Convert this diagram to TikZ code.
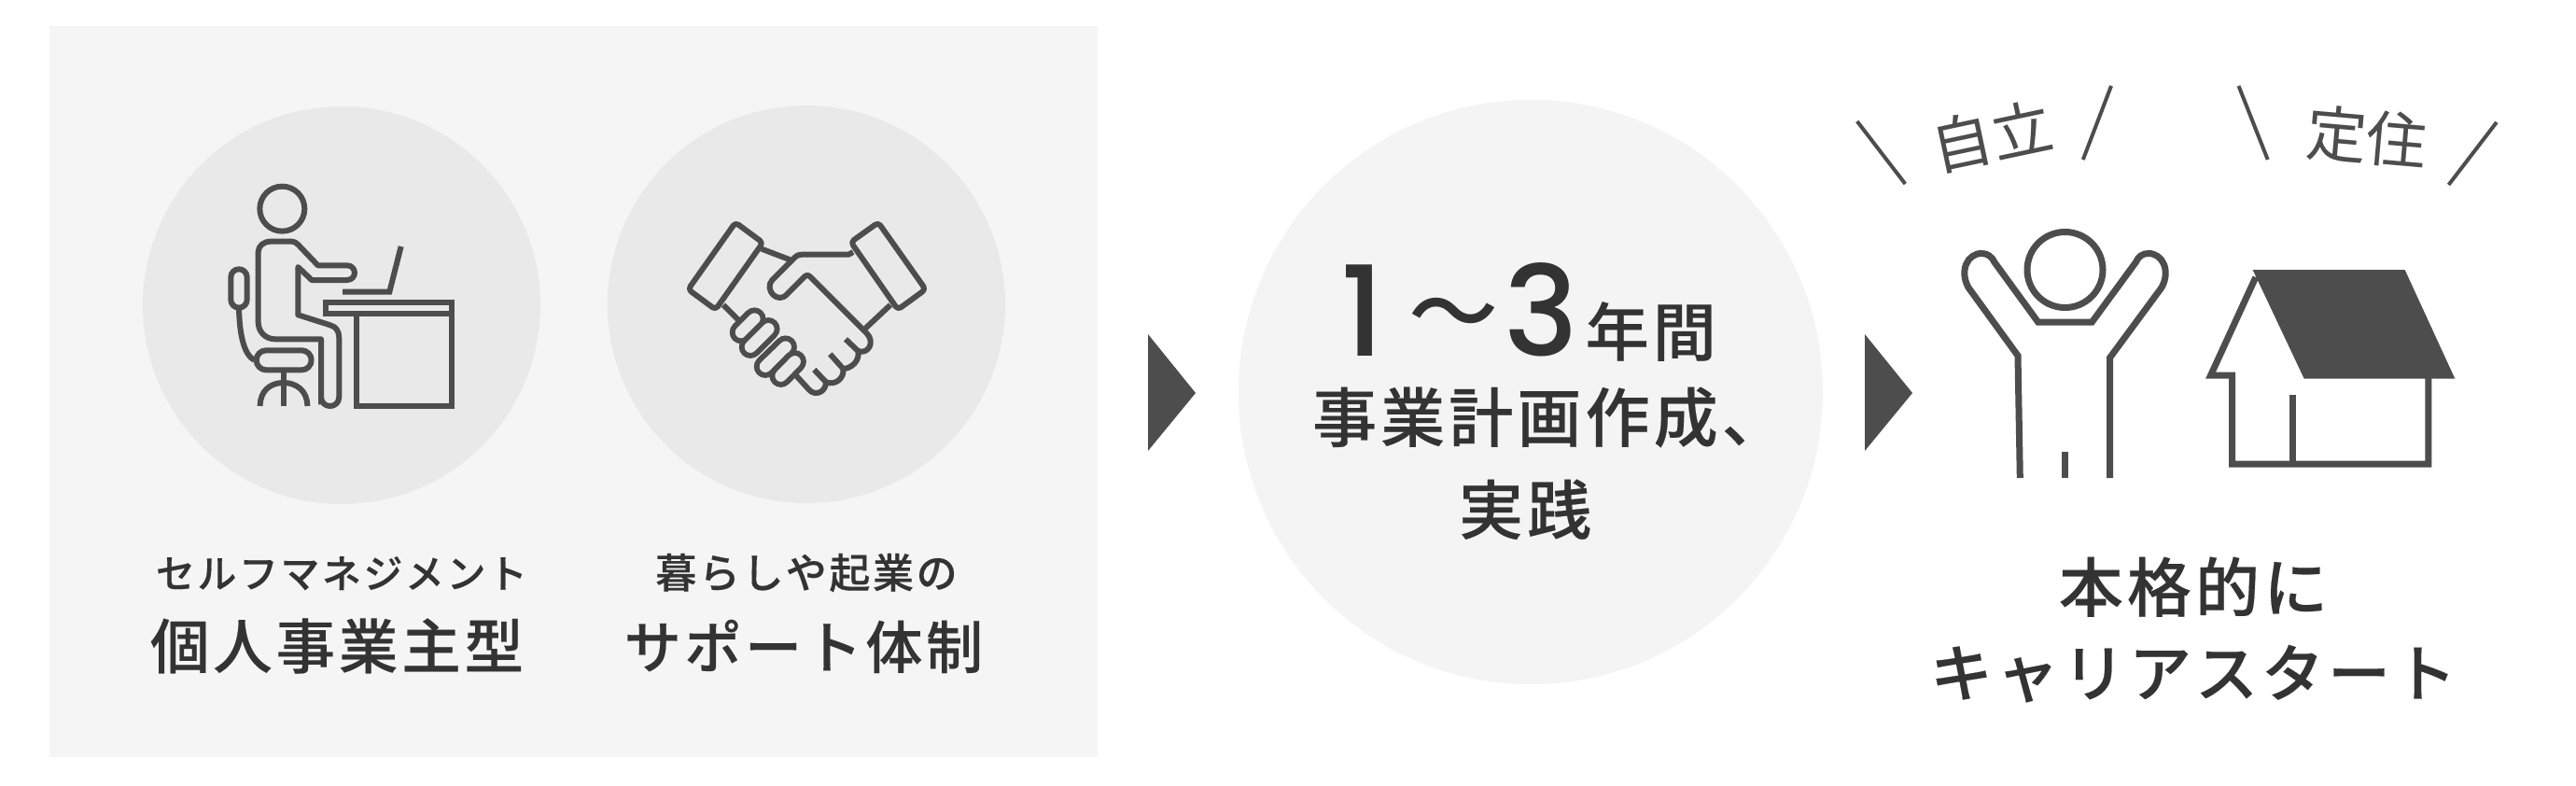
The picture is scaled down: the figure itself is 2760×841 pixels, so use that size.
\documentclass[tikz,border=0pt]{standalone}
\usepackage{fontspec}
\newfontfamily\jpmed{Noto Sans CJK JP Medium}
\newfontfamily\jpwide[LetterSpace=6]{Noto Sans CJK JP Medium}[FakeBold=0.3]
\newfontfamily\jphand{Noto Sans CJK JP}
\newfontfamily\jpnum{Poppins Medium}
\newcommand{\fsz}[1]{\fontsize{#1}{#1}\selectfont}
\definecolor{panelgray}{HTML}{F5F5F5}
\definecolor{circgray}{HTML}{E9E9E9}
\definecolor{centergray}{HTML}{F4F4F4}
\definecolor{icongray}{HTML}{4D4D4D}
\definecolor{textgray}{HTML}{333333}
\tikzset{
  iconline/.style={draw=icongray,line width=6pt,miter limit=10},
  handline/.style={draw=icongray,line width=6pt,line join=round},
  pill/.style={draw=icongray,line width=6pt,double=circgray,double distance=12.5pt,line cap=round},
  shout/.style={draw=icongray,line width=4pt},
  label/.style={inner sep=0pt,anchor=base,text=textgray},
  handtext/.style={inner sep=0pt,anchor=center,text=icongray,font=\jphand\fsz{65}}
}
\begin{document}
\begin{tikzpicture}[x=1pt,y=-1pt]
  \useasboundingbox (0,0) rectangle (2760,841);
  \fill[white] (0,0) rectangle (2760,841);
  \fill[panelgray] (53,28) rectangle (1176,811);
  \fill[circgray] (366,327) circle (213pt);
  \fill[circgray] (864,326) circle (213pt);
  \fill[centergray] (1640,420) circle (313pt);
  %
  \foreach \x in {1230,1998}{
    \fill[icongray] (\x,358) -- (\x+51,421) -- (\x,483) -- cycle;
  }
  %
  \begin{scope}[shift={(130,100)},scale=1/3]
    \draw[iconline] (517,371) circle (72);
    \draw[iconline,line join=round] (642,1000) -- (642,790) -- (495,790) .. controls (462,790) and (440,765) .. (440,735)
      -- (440,510) .. controls (440,490) and (458,476) .. (480,476) -- (548,476) .. controls (556,476) and (562,480) .. (568,486)
      -- (632,553) -- (725,553) .. controls (758,553) and (758,600) .. (725,600) -- (612,600) -- (568,558) -- (568,712)
      -- (672,745) .. controls (690,750) and (700,765) .. (700,785) -- (700,975) .. controls (700,1015) and (642,1015) .. (642,975);
    \draw[iconline,rounded corners=8.6pt] (352,565) rectangle (404,689);
    \draw[iconline] (378,689) .. controls (380,780) and (395,840) .. (428,858);
    \draw[iconline,rounded corners=10.5pt] (434,826) rectangle (611,889);
    \draw[iconline] (521,889) -- (521,1005);
    \draw[iconline] (446,1005) .. controls (446,955) and (480,930) .. (521,930) .. controls (562,930) and (598,955) .. (598,1005);
    \draw[iconline] (657,673) rectangle (1062,709);
    \draw[iconline] (757,700) -- (757,1006) -- (1062,1006) -- (1062,709);
    \draw[iconline] (711,638) -- (862,638) -- (899,492);
  \end{scope}
  %
  \begin{scope}[shift={(640,100)},scale=1/3]
    \draw[handline,rounded corners=4pt] (444,415) -- (532,480) -- (380,695) -- (292,630) -- cycle;
    \draw[handline,rounded corners=4pt] (903,415) -- (815,478) -- (966,695) -- (1055,630) -- cycle;
    \draw[handline] (528,500) -- (620,535);
    \draw[handline] (405,680) -- (460,735);
    \draw[handline] (942,680) -- (862,755);
    \draw[handline] (822,510) -- (808,518) -- (660,518) .. controls (645,518) and (640,522) .. (630,532) -- (562,600)
      .. controls (535,630) and (580,680) .. (610,645) -- (665,590) .. controls (672,583) and (678,583) .. (685,590) -- (865,770)
      .. controls (895,800) and (870,840) .. (838,828);
    \draw[handline] (798,790) -- (838,828) .. controls (845,860) and (815,885) .. (790,885);
    \draw[handline] (748,838) -- (790,885) .. controls (795,915) and (765,940) .. (735,928);
    \draw[handline] (697,888) -- (735,928) .. controls (735,960) and (700,975) .. (680,952) -- (640,908);
    \draw[pill] (505,725) -- (462,768);
    \draw[pill] (550,757) -- (492,815);
    \draw[pill] (605,815) -- (540,878);
    \draw[pill] (635,862) -- (590,908);
  \end{scope}
  %
  \draw[iconline,line width=7pt] (2212.5,289) circle (40.5);
  \draw[iconline,line width=7pt] (2164.3,512) -- (2162,381) -- (2109,308) .. controls (2099,290) and (2108,271.5) .. (2123,271.5)
    .. controls (2130,271.5) and (2134,275) .. (2137,281) -- (2183.6,345) -- (2241.4,345) -- (2288.3,281)
    .. controls (2291,275) and (2295,271.5) .. (2302,271.5) .. controls (2317,271.5) and (2326,290) .. (2316,308)
    -- (2260.7,383) -- (2260.7,512);
  \draw[iconline,line width=7pt] (2212.5,484) -- (2212.5,512);
  %
  \fill[icongray] (2413.6,289) -- (2576.6,289) -- (2630.3,405.7) -- (2468.7,405.7) -- cycle;
  \draw[iconline,line width=7pt] (2416.8,297) -- (2368.6,402) -- (2391.6,402) -- (2391.6,497) -- (2601.9,497) -- (2601.9,405);
  \draw[iconline,line width=7pt] (2456.8,423) -- (2456.8,497);
  %
  \draw[shout] (1989.8,130) -- (2041.3,197);
  \draw[shout] (2262,92) -- (2231.8,171);
  \draw[shout] (2398.5,92) -- (2429.7,171);
  \draw[shout] (2674.9,131) -- (2623.5,198);
  \node[handtext,rotate=12] (jiritsu) at (2134,146) {自立};
  \node[handtext,rotate=-5] (teiju) at (2536,147) {定住};
  %
  \node[label,font=\jpwide\fsz{42}] (selfmanage) at (366,630) {セルフマネジメント};
  \node[label,font=\jpwide\fsz{44}] (kurashi) at (864,630) {暮らしや起業の};
  \node[label,font=\jpwide\fsz{63.5}] (kojin) at (361,716) {個人事業主型};
  \node[label,font=\jpwide\fsz{61}] (support) at (861,716) {サポート体制};
  \node[label,anchor=base west] (years) at (1436,381) {\jpnum\fsz{134}1\kern26pt\jpmed\fsz{96}\raisebox{12pt}{〜}\kern6pt\jpnum\fsz{134}3\kern8pt\jpwide\fsz{68}年間};
  \node[label,font=\jpwide\fsz{69}] (plan) at (1660,473) {事業計画作成、};
  \node[label,font=\jpwide\fsz{69}] (practice) at (1634,572) {実践};
  \node[label,font=\jpwide\fsz{69}] (honkaku) at (2350,655) {本格的に};
  \node[label,font=\jpwide\fsz{67}] (career) at (2350,746) {キャリアスタート};
\end{tikzpicture}
\end{document}
